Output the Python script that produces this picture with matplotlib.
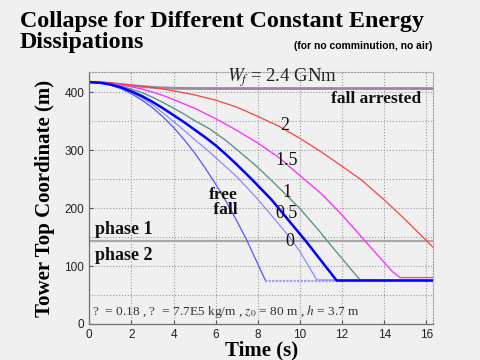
import matplotlib
matplotlib.use("Agg")
import matplotlib.pyplot as plt
from matplotlib.ticker import MultipleLocator

plt.rcParams['mathtext.fontset'] = 'stix'

# ---- data ----
t_free = [0, 0.5, 1, 1.5, 2, 2.5, 3, 3.5, 4, 4.5, 5, 5.5, 6, 6.5, 7, 7.47, 8.35]
z_free = [417, 416, 412, 406, 397, 386, 373, 357, 339, 318, 295, 269, 241, 211, 178, 145, 76]
t_free_flat = [8.35, 16.3]
z_free_flat = [75, 75]

t_w0 = [0, 0.5, 1, 1.5, 2, 2.5, 3, 3.5, 4, 4.5, 5, 5.5, 6, 7, 8, 9, 9.5, 10, 10.8, 16.3]
z_w0 = [417, 416, 413, 407, 399, 390, 378, 364, 349, 334, 318, 303, 287, 254, 215, 172, 150, 125, 76, 75]

t_w05 = [0, 0.5, 1, 1.5, 2, 2.5, 3, 3.5, 4, 4.5, 5, 5.5, 6, 6.5, 7, 7.7, 8.66, 9.5, 10.3, 11.74, 16.3]
z_w05 = [417, 416, 413, 408, 401, 393, 383, 372, 360, 348, 335, 322, 308, 292, 275, 250, 214, 177, 142, 75, 75]

t_w1 = [0, 0.5, 1, 1.5, 2, 2.5, 3, 3.5, 4, 4.5, 4.94, 5.73, 6.5, 7, 8, 8.58, 9, 10, 11, 11.3, 12.85, 16.3]
z_w1 = [417, 416, 414, 410, 405, 399, 391, 382, 372, 362, 352, 336, 316, 301, 270, 250, 235, 199, 157, 143, 76, 75]

t_w15 = [0, 0.5, 1, 1.5, 2, 2.5, 3, 3.5, 4, 5, 6, 7, 8, 9, 10, 11, 12, 13, 14, 14.4, 14.75, 16.3]
z_w15 = [417, 417, 415, 413, 409, 405, 400, 394, 387, 372, 354, 334, 312, 287, 256, 225, 188, 147, 106, 90, 80, 80]

t_w2 = [0, 1, 2, 3, 4, 5, 6, 7, 8, 9, 10, 11, 12, 12.93, 14, 15, 16.3]
z_w2 = [417, 416, 412, 408, 402, 395, 386, 374, 358, 341, 320, 297, 272, 248, 214, 180, 133]

t_arr = [0, 0.5, 1, 1.5, 2, 2.5, 3, 4, 5, 16.3]
z_arr = [417, 416.5, 415, 413, 411, 409.5, 408, 406.5, 406, 406]

z_phase = 143

curve_labels = ["2", "1.5", "1", "0.5", "0"]
label_t = [9.29, 9.37, 9.37, 9.34, 9.53]
label_z = [343, 282, 226, 191, 142]

x_ticks = [0, 2, 4, 6, 8, 10, 12, 14, 16]
y_ticks = [0, 100, 200, 300, 400]

# ---- figure ----
bg = '#f0f0f0'
fig = plt.figure(figsize=(4.8, 3.6), dpi=100, facecolor=bg)
ax = fig.add_axes([0.186, 0.1, 0.7167, 0.7], facecolor=bg)

ax.set_xlim(0, 16.33)
ax.set_ylim(0, 434.5)
ax.set_xticks(x_ticks)
ax.set_yticks(y_ticks)
ax.yaxis.set_minor_locator(MultipleLocator(50))
ax.grid(True, which='both', color='#9a9a9a', linestyle=':', linewidth=0.8)
ax.set_axisbelow(True)
ax.tick_params(which='both', direction='in', length=3, labelsize=8.5,
               labelcolor='#222222', color='#555555')
ax.tick_params(which='minor', length=0)
for lab in ax.get_xticklabels() + ax.get_yticklabels():
    lab.set_family('Liberation Sans')
for s in ['left', 'bottom']:
    ax.spines[s].set_color('#707070')
    ax.spines[s].set_linewidth(0.9)
for s in ['top', 'right']:
    ax.spines[s].set_color('#9a9a9a')
    ax.spines[s].set_linestyle(':')
    ax.spines[s].set_linewidth(0.8)

# lines
ax.axhline(z_phase, color='#a8a8a8', lw=1.6)
ax.plot(t_arr, z_arr, color='#9c86a0', lw=2.0)
ax.plot(t_w2, z_w2, color='#ff4040', lw=0.9)
ax.plot(t_w15, z_w15, color='#ff33ff', lw=1.0)
ax.plot(t_w1, z_w1, color='#5f9488', lw=1.0)
ax.plot(t_free_flat, z_free_flat, color='#9a9aff', lw=1.6, linestyle=(0, (1, 0.6)))
ax.plot(t_free, z_free, color='#5555ff', lw=0.9)
ax.plot(t_w0, z_w0, color='#8c8cff', lw=0.9)
ax.plot(t_w05, z_w05, color='#0000ff', lw=1.8)

serif = 'Liberation Serif'
for lab, tt, zz in zip(curve_labels, label_t, label_z):
    ax.text(tt, zz, lab, family=serif, fontsize=13, ha='center', va='center', color='#111111')

ax.text(9.15, 418, r'$\mathit{W}_{\!f}$' + ' = 2.4 GNm', family=serif, fontsize=13.5,
        ha='center', va='baseline', color='#222222')
ax.text(13.6, 381, 'fall arrested', family=serif, fontweight='bold', fontsize=12.5,
        ha='center', va='baseline', color='#111111')
ax.text(6.35, 209, 'free\n fall', family=serif, fontweight='bold', fontsize=12.5,
        ha='center', va='center', color='#111111', linespacing=0.95)
ax.text(0.27, 156, 'phase 1', family=serif, fontweight='bold', fontsize=13,
        ha='left', va='baseline', color='#111111')
ax.text(0.27, 110, 'phase 2', family=serif, fontweight='bold', fontsize=13,
        ha='left', va='baseline', color='#111111')
ax.text(0.12, 15, r'?  = 0.18 , ?  = 7.7E5 kg/m , $z_0$ = 80 m , $h$ = 3.7 m',
        family=serif, fontsize=9.6, ha='left', va='baseline', color='#333333')

ax.set_xlabel('Time (s)', family=serif, fontweight='bold', fontsize=15, labelpad=0)
ax.set_ylabel('Tower Top Coordinate (m)', family=serif, fontweight='bold', fontsize=15, labelpad=7)

fig.text(20/480, 1-26.7/360, 'Collapse for Different Constant Energy', family=serif,
         fontweight='bold', fontsize=17.3, ha='left', va='baseline')
fig.text(20/480, 1-48/360, 'Dissipations', family=serif,
         fontweight='bold', fontsize=17.3, ha='left', va='baseline')
fig.text(432/480, 1-49/360, '(for no comminution, no air)', family='Liberation Sans',
         fontweight='bold', fontsize=7.5, ha='right', va='baseline')

fig.savefig('out.png', dpi=100, facecolor=bg)
